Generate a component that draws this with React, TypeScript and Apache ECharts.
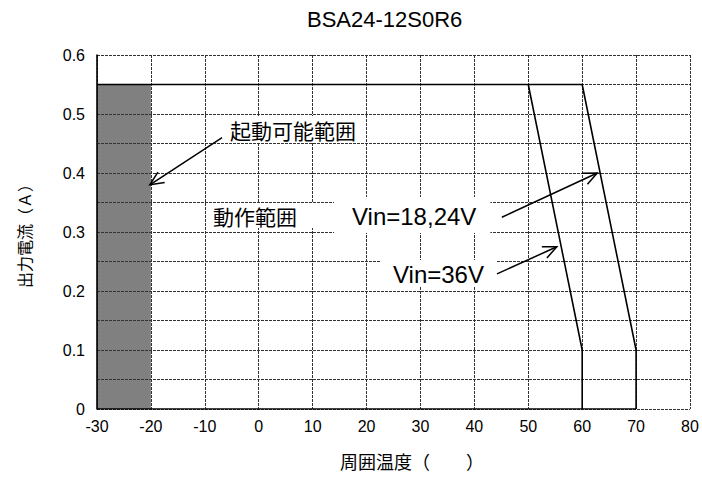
import React, { useEffect, useRef } from "react";
import * as echarts from "echarts";

const chartTitle = "BSA24-12S0R6";
const xTickLabels = ["-30", "-20", "-10", "0", "10", "20", "30", "40", "50", "60", "70", "80"];
const yTickLabels = ["0", "0.1", "0.2", "0.3", "0.4", "0.5", "0.6"];
const xAxisName = "周囲温度（　　）";
const yAxisName = "出力電流（Ａ）";

// derating boundaries [temperature, current]
const boundaryVin18_24: number[][] = [[-30, 0.55], [60, 0.55], [70, 0.1], [70, 0]];
const boundaryVin36: number[][] = [[50, 0.55], [60, 0.1], [60, 0]];
const bottomEdge: number[][] = [[-30, 0], [70, 0]];
// start-up range (shaded) [xFrom, yFrom, xTo, yTo]
const startRange: number[][] = [[-30, 0, -20, 0.55]];

// annotation arrows [x1, y1, x2(tip), y2(tip)]
const arrows: number[][] = [
  [-6.8, 0.46, -20.2, 0.38],
  [45.1, 0.325, 62.8, 0.4],
  [44.2, 0.229, 55.3, 0.275],
];

const labelStartup = "起動可能範囲";
const labelOperating = "動作範囲";
const labelVin18 = "Vin=18,24V";
const labelVin36 = "Vin=36V";

const CJK = '"Noto Sans CJK JP", "Noto Sans", sans-serif';
const LAT = '"Liberation Sans", Arial, sans-serif';

export default function App() {
  const ref = useRef<HTMLDivElement>(null);
  useEffect(() => {
    if (!ref.current) return;
    const chart = echarts.init(ref.current, undefined, { renderer: "svg" });
    const gridStyle = { color: "#333", width: 1, type: [3, 1] as any };
    const lineStyle = { color: "#000", width: 1.6 };
    chart.setOption({
      animation: false,
      backgroundColor: "#fff",
      title: {
        text: chartTitle,
        left: 307,
        top: 8,
        padding: 0,
        textStyle: { fontFamily: LAT, fontSize: 22, fontWeight: "normal", color: "#000" },
      },
      grid: { left: 97, right: 12, top: 55, bottom: 71, containLabel: false },
      xAxis: {
        type: "value",
        min: -30,
        max: 80,
        interval: 10,
        name: xAxisName,
        nameLocation: "middle",
        nameGap: 43,
        nameTextStyle: { fontFamily: CJK, fontSize: 18, color: "#000", padding: [0, 0, 0, 37] },
        axisLine: { show: false },
        axisTick: { show: false },
        axisLabel: {
          margin: 9,
          fontFamily: LAT,
          fontSize: 16,
          color: "#000",
          formatter: (_v: number, i: number) => xTickLabels[i] ?? "",
        },
        splitLine: { show: true, lineStyle: gridStyle },
      },
      yAxis: {
        type: "value",
        min: 0,
        max: 0.6,
        interval: 0.05,
        name: yAxisName,
        nameLocation: "middle",
        nameRotate: 90,
        nameGap: 65,
        nameTextStyle: { fontFamily: CJK, fontSize: 16, color: "#000" },
        axisLine: { show: true, onZero: false, lineStyle: { color: "#000", width: 1.6 } },
        axisTick: { show: false },
        axisLabel: {
          margin: 12,
          fontFamily: LAT,
          fontSize: 16,
          color: "#000",
          formatter: (_v: number, i: number) => (i % 2 === 0 ? yTickLabels[i / 2] ?? "" : ""),
        },
        splitLine: { show: true, lineStyle: gridStyle },
      },
      series: [
        {
          type: "custom",
          data: startRange,
          encode: { x: [0, 2], y: [1, 3] },
          z: -1,
          silent: true,
          renderItem: (_params: any, api: any) => {
            const p1 = api.coord([api.value(0), api.value(1)]);
            const p2 = api.coord([api.value(2), api.value(3)]);
            return {
              type: "rect",
              shape: {
                x: Math.min(p1[0], p2[0]),
                y: Math.min(p1[1], p2[1]),
                width: Math.abs(p2[0] - p1[0]),
                height: Math.abs(p2[1] - p1[1]),
              },
              style: { fill: "#808080" },
            };
          },
        },
        { type: "line", data: bottomEdge, symbol: "none", lineStyle, z: 3 },
        { type: "line", data: boundaryVin18_24, symbol: "none", lineStyle, z: 3 },
        { type: "line", data: boundaryVin36, symbol: "none", lineStyle, z: 3 },
        {
          type: "custom",
          data: arrows,
          encode: { x: [0, 2], y: [1, 3] },
          z: 4,
          renderItem: (_params: any, api: any) => {
            const p1 = api.coord([api.value(0), api.value(1)]);
            const p2 = api.coord([api.value(2), api.value(3)]);
            const ang = Math.atan2(p2[1] - p1[1], p2[0] - p1[0]);
            const L = 15;
            const a = 0.42;
            const h1 = [p2[0] - L * Math.cos(ang - a), p2[1] - L * Math.sin(ang - a)];
            const h2 = [p2[0] - L * Math.cos(ang + a), p2[1] - L * Math.sin(ang + a)];
            return {
              type: "group",
              children: [
                {
                  type: "line",
                  shape: { x1: p1[0], y1: p1[1], x2: p2[0], y2: p2[1] },
                  style: { stroke: "#000", lineWidth: 1.5 },
                },
                {
                  type: "polyline",
                  shape: { points: [h1, p2, h2] },
                  style: { stroke: "#000", fill: null, lineWidth: 1.5 },
                },
              ],
            };
          },
        },
      ],
      graphic: [
        {
          type: "text",
          left: 226,
          top: 116,
          z: 10,
          style: {
            text: labelStartup,
            font: `21px ${CJK}`,
            fill: "#000",
            backgroundColor: "#fff",
            padding: [3, 4, 3, 4],
          },
        },
        {
          type: "text",
          left: 206,
          top: 203,
          z: 10,
          style: {
            text: labelOperating,
            font: `21px ${CJK}`,
            fill: "#000",
            backgroundColor: "#fff",
            padding: [2, 30, 2, 7],
          },
        },
        {
          type: "text",
          left: 334,
          top: 197,
          z: 10,
          style: {
            text: labelVin18,
            font: `24px ${LAT}`,
            fill: "#000",
            backgroundColor: "#fff",
            padding: [7, 14, 5, 18],
          },
        },
        {
          type: "text",
          left: 380,
          top: 260,
          z: 10,
          style: {
            text: labelVin36,
            font: `24px ${LAT}`,
            fill: "#000",
            backgroundColor: "#fff",
            padding: [2, 12, 1, 13],
          },
        },
      ],
    });
    return () => chart.dispose();
  }, []);
  return (
    <div
      ref={ref}
      style={{ position: "fixed", left: 0, top: 0, width: 702, height: 480 }}
    />
  );
}
